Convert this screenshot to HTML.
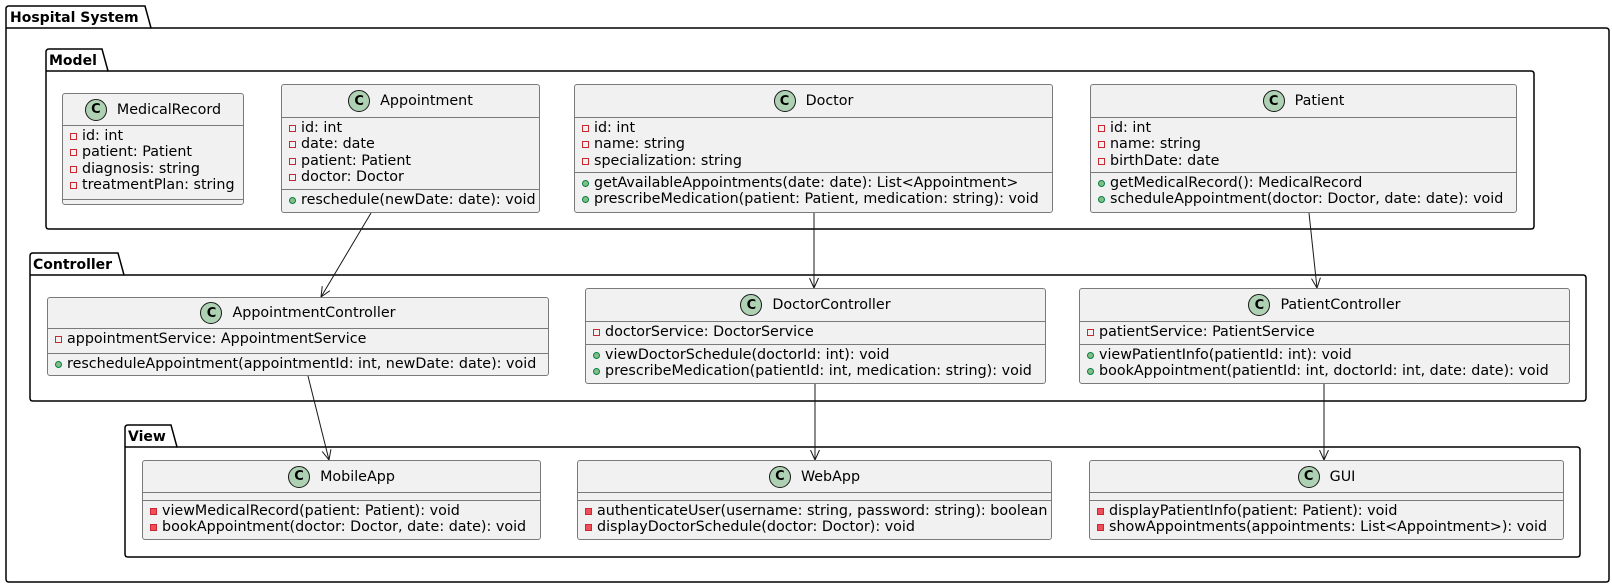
<!DOCTYPE html>
<html><head><meta charset="utf-8"><style>
html,body{margin:0;padding:0;background:#fff}
#w{position:relative;width:1612px;height:587px;overflow:hidden;font-family:"DejaVu Sans","Liberation Sans",sans-serif;font-size:14.3px;color:#000}
svg{position:absolute;left:0;top:0}
.c{position:absolute;box-sizing:border-box;border:1px solid #7a7a7a;border-radius:3px;background:#F1F1F1}
.h{position:absolute;left:0;right:0;top:0;display:flex;justify-content:center;align-items:center;white-space:nowrap}
.ci{box-sizing:border-box;width:22px;height:22px;border-radius:50%;background:#ADD1B2;border:1px solid #181818;font-weight:bold;font-size:13px;display:flex;justify-content:center;align-items:center;margin-right:10px}
.d{position:absolute;left:0;right:0;height:1px;background:#7a7a7a}
.r{position:absolute;left:0;white-space:nowrap;line-height:16px;height:16px;padding-left:19px}
.r i{position:absolute;left:7px;top:5px;box-sizing:border-box;width:7px;height:7px}
.pf{border:1px solid #C82930;background:transparent}
.pm{border:1px solid #C82930;background:#F24D5C}
.um{border:1px solid #038048;background:#84BE84;border-radius:50%}
</style></head><body><div id="w">
<svg width="1612" height="587" viewBox="0 0 1612 587">
<defs><marker id="a" markerUnits="userSpaceOnUse" markerWidth="12" markerHeight="12" refX="10" refY="5" orient="auto"><path d="M0,0.5 L10,5 L0,9.5" fill="none" stroke="#181818" stroke-width="1"/></marker></defs>
<g fill="none" stroke="#000" stroke-width="1.5">
<path d="M9,6 L145,6 L151,28 L1606,28 Q1609,28 1609,31 L1609,579 Q1609,582 1606,582 L9,582 Q6,582 6,579 L6,9 Q6,6 9,6 Z"/><path d="M6,28 L151,28"/>
<path d="M49,49 L102,49 L108,71 L1531,71 Q1534,71 1534,74 L1534,226 Q1534,229 1531,229 L49,229 Q46,229 46,226 L46,52 Q46,49 49,49 Z"/><path d="M46,71 L108,71"/>
<path d="M33,253 L118,253 L124,275 L1583,275 Q1586,275 1586,278 L1586,398 Q1586,401 1583,401 L33,401 Q30,401 30,398 L30,256 Q30,253 33,253 Z"/><path d="M30,275 L124,275"/>
<path d="M128,425 L171,425 L177,447 L1577,447 Q1580,447 1580,450 L1580,554 Q1580,557 1577,557 L128,557 Q125,557 125,554 L125,428 Q125,425 128,425 Z"/><path d="M125,447 L177,447"/>
</g>
<g font-family="DejaVu Sans, Liberation Sans, sans-serif" font-size="14" font-weight="bold" fill="#000">
<text x="10" y="22">Hospital System</text>
<text x="49" y="65">Model</text>
<text x="33" y="269">Controller</text>
<text x="128" y="441">View</text>
</g>
<g stroke="#181818" stroke-width="1" marker-end="url(#a)">
<line x1="371" y1="213" x2="321" y2="297"/>
<line x1="814" y1="213" x2="814" y2="288"/>
<line x1="1309" y1="213" x2="1317" y2="288"/>
<line x1="308" y1="376" x2="329" y2="460"/>
<line x1="815" y1="384" x2="815" y2="460"/>
<line x1="1324" y1="384" x2="1324" y2="460"/>
</g>
</svg>

<div class="c" style="left:62px;top:93px;width:182px;height:112px">
<div class="h" style="height:31px"><span class="ci">C</span>MedicalRecord</div>
<div class="d" style="top:31px"></div>
<div class="r" style="top:34px"><i class="pf"></i>id: int</div>
<div class="r" style="top:50.3px"><i class="pf"></i>patient: Patient</div>
<div class="r" style="top:66.6px"><i class="pf"></i>diagnosis: string</div>
<div class="r" style="top:82.9px"><i class="pf"></i>treatmentPlan: string</div>
<div class="d" style="top:105px"></div>
</div>

<div class="c" style="left:281px;top:84px;width:259px;height:129px">
<div class="h" style="height:32px"><span class="ci">C</span>Appointment</div>
<div class="d" style="top:32px"></div>
<div class="r" style="top:35px"><i class="pf"></i>id: int</div>
<div class="r" style="top:51.3px"><i class="pf"></i>date: date</div>
<div class="r" style="top:67.6px"><i class="pf"></i>patient: Patient</div>
<div class="r" style="top:83.9px"><i class="pf"></i>doctor: Doctor</div>
<div class="d" style="top:104px"></div>
<div class="r" style="top:107px"><i class="um"></i>reschedule(newDate: date): void</div>
</div>

<div class="c" style="left:574px;top:84px;width:479px;height:129px">
<div class="h" style="height:32px"><span class="ci">C</span>Doctor</div>
<div class="d" style="top:32px"></div>
<div class="r" style="top:35px"><i class="pf"></i>id: int</div>
<div class="r" style="top:51.3px"><i class="pf"></i>name: string</div>
<div class="r" style="top:67.6px"><i class="pf"></i>specialization: string</div>
<div class="d" style="top:87px"></div>
<div class="r" style="top:90px"><i class="um"></i>getAvailableAppointments(date: date): List&lt;Appointment&gt;</div>
<div class="r" style="top:106.3px"><i class="um"></i>prescribeMedication(patient: Patient, medication: string): void</div>
</div>

<div class="c" style="left:1090px;top:84px;width:427px;height:129px">
<div class="h" style="height:32px"><span class="ci">C</span>Patient</div>
<div class="d" style="top:32px"></div>
<div class="r" style="top:35px"><i class="pf"></i>id: int</div>
<div class="r" style="top:51.3px"><i class="pf"></i>name: string</div>
<div class="r" style="top:67.6px"><i class="pf"></i>birthDate: date</div>
<div class="d" style="top:87px"></div>
<div class="r" style="top:90px"><i class="um"></i>getMedicalRecord(): MedicalRecord</div>
<div class="r" style="top:106.3px"><i class="um"></i>scheduleAppointment(doctor: Doctor, date: date): void</div>
</div>

<div class="c" style="left:47px;top:297px;width:502px;height:79px">
<div class="h" style="height:30px"><span class="ci">C</span>AppointmentController</div>
<div class="d" style="top:30px"></div>
<div class="r" style="top:33px"><i class="pf"></i>appointmentService: AppointmentService</div>
<div class="d" style="top:55px"></div>
<div class="r" style="top:58px"><i class="um"></i>rescheduleAppointment(appointmentId: int, newDate: date): void</div>
</div>

<div class="c" style="left:585px;top:288px;width:461px;height:96px">
<div class="h" style="height:32px"><span class="ci">C</span>DoctorController</div>
<div class="d" style="top:32px"></div>
<div class="r" style="top:35px"><i class="pf"></i>doctorService: DoctorService</div>
<div class="d" style="top:55px"></div>
<div class="r" style="top:58px"><i class="um"></i>viewDoctorSchedule(doctorId: int): void</div>
<div class="r" style="top:74.3px"><i class="um"></i>prescribeMedication(patientId: int, medication: string): void</div>
</div>

<div class="c" style="left:1079px;top:288px;width:491px;height:96px">
<div class="h" style="height:32px"><span class="ci">C</span>PatientController</div>
<div class="d" style="top:32px"></div>
<div class="r" style="top:35px"><i class="pf"></i>patientService: PatientService</div>
<div class="d" style="top:55px"></div>
<div class="r" style="top:58px"><i class="um"></i>viewPatientInfo(patientId: int): void</div>
<div class="r" style="top:74.3px"><i class="um"></i>bookAppointment(patientId: int, doctorId: int, date: date): void</div>
</div>

<div class="c" style="left:142px;top:460px;width:399px;height:80px">
<div class="h" style="height:31px"><span class="ci">C</span>MobileApp</div>
<div class="d" style="top:31px"></div>
<div class="d" style="top:39px"></div>
<div class="r" style="top:42px"><i class="pm"></i>viewMedicalRecord(patient: Patient): void</div>
<div class="r" style="top:58.3px"><i class="pm"></i>bookAppointment(doctor: Doctor, date: date): void</div>
</div>

<div class="c" style="left:577px;top:460px;width:475px;height:80px">
<div class="h" style="height:31px"><span class="ci">C</span>WebApp</div>
<div class="d" style="top:31px"></div>
<div class="d" style="top:39px"></div>
<div class="r" style="top:42px"><i class="pm"></i>authenticateUser(username: string, password: string): boolean</div>
<div class="r" style="top:58.3px"><i class="pm"></i>displayDoctorSchedule(doctor: Doctor): void</div>
</div>

<div class="c" style="left:1089px;top:460px;width:475px;height:80px">
<div class="h" style="height:31px"><span class="ci">C</span>GUI</div>
<div class="d" style="top:31px"></div>
<div class="d" style="top:39px"></div>
<div class="r" style="top:42px"><i class="pm"></i>displayPatientInfo(patient: Patient): void</div>
<div class="r" style="top:58.3px"><i class="pm"></i>showAppointments(appointments: List&lt;Appointment&gt;): void</div>
</div>

</div></body></html>
